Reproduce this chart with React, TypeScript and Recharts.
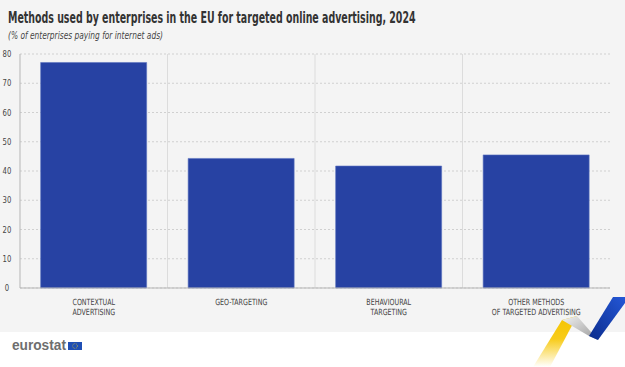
import { useLayoutEffect, useRef, useState } from "react";
import { BarChart, Bar, XAxis, YAxis, CartesianGrid } from "recharts";

const categories = [
  ["CONTEXTUAL", "ADVERTISING"],
  ["GEO-TARGETING"],
  ["BEHAVIOURAL", "TARGETING"],
  ["OTHER METHODS", "OF TARGETED ADVERTISING"],
];
const shares = [77.1, 44.3, 41.7, 45.5];
const yTicks = [0, 10, 20, 30, 40, 50, 60, 70, 80];

const data = categories.map((lines, i) => ({
  name: lines.join(" "),
  value: shares[i],
}));

const NARROW = "'Liberation Sans Narrow', 'DejaVu Sans Condensed', sans-serif";
const BAR = "#2742a3";

// squeezes a line of svg text horizontally to a given width
function FitText({ x, y, width, children, ...rest }: any) {
  const ref = useRef<SVGTextElement>(null);
  const [sx, setSx] = useState(1);
  useLayoutEffect(() => {
    if (ref.current) {
      const w = ref.current.getComputedTextLength();
      if (w > 0) setSx(width / w);
    }
  }, [width]);
  return (
    <g transform={`translate(${x},${y}) scale(${sx},1)`}>
      <text ref={ref} x={0} y={0} {...rest}>
        {children}
      </text>
    </g>
  );
}

function XTick(props: any) {
  const { x, y, index } = props;
  const lines = categories[index] ?? [];
  return (
    <g transform={`translate(${x},${y}) scale(0.83,1)`}>
      <text textAnchor="middle" fontFamily={NARROW} fontSize={8.5} fill="#444">
        {lines.map((l, i) => (
          <tspan key={i} x={0} y={9 + i * 10}>
            {l}
          </tspan>
        ))}
      </text>
    </g>
  );
}

function YTick(props: any) {
  const { y, payload } = props;
  return (
    <g transform={`translate(7,${y}) scale(0.85,1)`}>
      <text textAnchor="middle" dy={3} fontFamily={NARROW} fontSize={9} fill="#444">
        {payload.value}
      </text>
    </g>
  );
}

export default function App() {
  return (
    <div style={{ position: "absolute", left: 0, top: 0, width: 625, height: 367, background: "#fff", overflow: "hidden" }}>
      <div style={{ position: "absolute", left: 0, top: 0, width: 625, height: 332, background: "#f4f4f4" }} />
      <svg width={625} height={50} style={{ position: "absolute", left: 0, top: 0 }}>
        <FitText x={8} y={23} width={408} fontFamily={NARROW} fontWeight="bold" fontSize={16} fill="#333">
          Methods used by enterprises in the EU for targeted online advertising, 2024
        </FitText>
        <FitText x={8} y={38.5} width={155} fontFamily={NARROW} fontStyle="italic" fontSize={10} fill="#444">
          (% of enterprises paying for internet ads)
        </FitText>
      </svg>
      <div style={{ position: "absolute", left: 0, top: 0 }}>
        <BarChart
          width={625}
          height={333}
          data={data}
          margin={{ top: 54, right: 15, bottom: 0, left: 0 }}
          barCategoryGap="14%"
        >
          <CartesianGrid
            horizontal
            vertical={false}
            stroke="#d0d0d0"
            strokeDasharray="2 2"
          />
          <CartesianGrid
            horizontal={false}
            vertical
            stroke="#dcdcdc"
            verticalCoordinatesGenerator={({ offset }: any) =>
              [1, 2, 3].map((i) => offset.left + (offset.width * i) / 4)
            }
          />
          <XAxis
            dataKey="name"
            height={45}
            tickLine={false}
            axisLine={{ stroke: "#b5b5b5" }}
            tick={<XTick />}
            interval={0}
          />
          <YAxis
            width={20}
            domain={[0, 80]}
            ticks={yTicks}
            tickLine={false}
            axisLine={{ stroke: "#b5b5b5" }}
            tick={<YTick />}
          />
          <Bar dataKey="value" fill={BAR} stroke="#5a72c0" strokeWidth={0.6} isAnimationActive={false} />
        </BarChart>
      </div>
      <svg width={625} height={367} style={{ position: "absolute", left: 0, top: 0, pointerEvents: "none" }}>
        <defs>
          <linearGradient id="yel" x1="0" y1="1" x2="0" y2="0">
            <stop offset="0" stopColor="#f7c600" stopOpacity={0} />
            <stop offset="0.55" stopColor="#f7c600" stopOpacity={0.9} />
            <stop offset="1" stopColor="#f5c400" />
          </linearGradient>
          <linearGradient id="gry" x1="0" y1="0" x2="1" y2="1">
            <stop offset="0" stopColor="#f2f2f2" />
            <stop offset="1" stopColor="#999" />
          </linearGradient>
          <linearGradient id="blu" x1="0" y1="1" x2="1" y2="0">
            <stop offset="0" stopColor="#0b2c8c" />
            <stop offset="1" stopColor="#2457d6" />
          </linearGradient>
        </defs>
        <FitText x={12} y={350} width={54} fontFamily="'Liberation Sans', Arial, sans-serif" fontWeight="bold" fontSize={14} fill="#6e6e6e">
          eurostat
        </FitText>
        <rect x={68} y={342} width={14} height={8} fill="#1f4fb5" />
        <circle cx={75} cy={346} r={2.4} fill="none" stroke="#f2cc1a" strokeWidth={0.7} strokeDasharray="0.8 0.8" />
        <polygon points="533,367 550,367 577,316 562,320" fill="url(#yel)" />
        <polygon points="562,320 577,316 598,340 589,336" fill="url(#gry)" />
        <polygon points="589,336 598,340 625,303 625,297 613,297" fill="url(#blu)" />
      </svg>
    </div>
  );
}
